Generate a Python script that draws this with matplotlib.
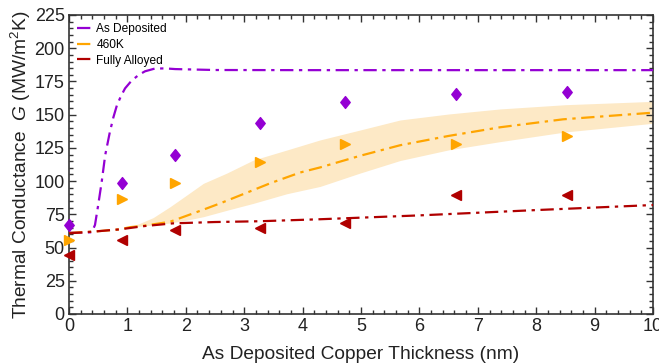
import matplotlib
matplotlib.use("Agg")
import matplotlib.pyplot as plt
import numpy as np
from matplotlib.ticker import MultipleLocator
from matplotlib.path import Path

plt.rcParams['font.family'] = ['Liberation Sans', 'DejaVu Sans']
plt.rcParams['mathtext.fontset'] = 'custom'
plt.rcParams['mathtext.rm'] = 'Liberation Sans'
plt.rcParams['mathtext.it'] = 'Liberation Sans:italic'

# measured data points
x_pts = [0.0, 0.91, 1.81, 3.27, 4.73, 6.63, 8.52]
as_dep_pts = [67, 98.6, 120, 143.7, 159.5, 165.5, 167.4]
k460_pts = [55.7, 86.5, 98.3, 114.6, 127.7, 127.7, 134]
alloy_pts = [44.6, 55.4, 63.2, 65, 68.7, 89.5, 89.5]

# model curves
as_dep_x = [0, 0.2, 0.39, 0.445, 0.50, 0.56, 0.62, 0.70, 0.76, 0.82, 0.89, 0.96, 1.07, 1.19, 1.3, 1.47, 1.65, 1.82, 2.5, 4.0, 10.0]
as_dep_y = [61.2, 61.2, 61.5, 67, 82, 99.5, 119.6, 137, 148, 157, 164, 169.8, 175.5, 179.8, 182.6, 184.7, 184.8, 184.3, 183.6, 183.5, 183.5]

k460_x = [0, 0.42, 0.87, 1.04, 1.3, 1.73, 2.3, 2.59, 3.0, 3.44, 3.96, 4.3, 4.98, 5.67, 6.5, 7.38, 8.46, 10.0]
k460_y = [61, 62, 63.7, 65.3, 66.5, 69.4, 78.5, 83.3, 90.5, 98.3, 106.5, 110.3, 119, 127, 134, 140.5, 146.5, 151.5]

band_x = [0, 0.42, 0.87, 1.04, 1.2, 1.44, 1.73, 2.0, 2.3, 2.7, 3.16, 3.73, 4.3, 4.98, 5.67, 6.5, 7.38, 8.5, 10.0]
k460_lo = [61, 62, 63.7, 65.3, 66, 67, 68.5, 70.5, 73.2, 78, 83.3, 90.5, 96, 106, 115.5, 123.5, 129.7, 137, 143.5]
k460_hi = [61, 62, 63.7, 65.7, 68, 72.5, 80.7, 89, 98.3, 106, 115.9, 123.4, 131, 138.4, 146, 150.5, 154.3, 157.5, 160]

alloy_x = [0, 0.42, 0.87, 1.3, 1.78, 2.5, 3.27, 4.3, 5.0, 6.0, 7.0, 8.0, 9.0, 10.0]
alloy_y = [60.7, 62, 63.7, 66.2, 68.2, 69.2, 69.8, 71.3, 72.5, 74.2, 76.2, 78.2, 80.1, 82]

c_purple = '#9400D3'
c_orange = '#FFA500'
c_red = '#B00000'

diamond = Path([(0, 1), (0.8, 0), (0, -1), (-0.8, 0), (0, 1)],
               [Path.MOVETO, Path.LINETO, Path.LINETO, Path.LINETO, Path.CLOSEPOLY])

fig = plt.figure(figsize=(6.59, 3.64), dpi=100)
ax = fig.add_axes([0.1047, 0.1374, 0.8863, 0.8214])

ds = (6, 2.5, 1.5, 2.5)
ax.fill_between(band_x, k460_lo, k460_hi, color='#FDE9C6', lw=0, zorder=1)
ax.plot(as_dep_x, as_dep_y, color=c_purple, lw=1.6, dashes=ds, label='As Deposited', zorder=3)
ax.plot(k460_x, k460_y, color=c_orange, lw=1.6, dashes=ds, label='460K', zorder=3)
ax.plot(alloy_x, alloy_y, color=c_red, lw=1.6, dashes=ds, label='Fully Alloyed', zorder=3)

ax.plot(x_pts, as_dep_pts, ls='none', marker=diamond, ms=8.5, color=c_purple, zorder=4, clip_on=False)
ax.plot(x_pts, k460_pts, ls='none', marker='>', ms=7.5, color=c_orange, zorder=4, clip_on=False)
ax.plot(x_pts, alloy_pts, ls='none', marker='<', ms=7.5, color=c_red, zorder=4, clip_on=False)

ax.set_xlim(0, 10)
ax.set_ylim(0, 225)
ax.xaxis.set_major_locator(MultipleLocator(1))
ax.xaxis.set_minor_locator(MultipleLocator(0.2))
ax.yaxis.set_major_locator(MultipleLocator(25))
ax.yaxis.set_minor_locator(MultipleLocator(5))
ax.tick_params(which='both', direction='in', top=True, right=True, colors='#333333',
               labelcolor='#222222', labelsize=13, width=1)
ax.tick_params(which='major', length=5, pad=3)
ax.tick_params(which='minor', length=3)
for s in ax.spines.values():
    s.set_color('#333333')
    s.set_linewidth(1.2)

ax.set_xlabel('As Deposited Copper Thickness (nm)', fontsize=13.8, color='#222222', labelpad=8)
ax.set_ylabel('Thermal Conductance  $\\mathit{G}$ (MW/m$^2$K)', fontsize=13.8, color='#222222', labelpad=1)

leg = ax.legend(loc='upper left', frameon=False, fontsize=8.6, handlelength=1.35,
                handletextpad=0.25, labelspacing=0.3, borderaxespad=0.5, borderpad=0.2)

fig.savefig('out.png', dpi=100)
